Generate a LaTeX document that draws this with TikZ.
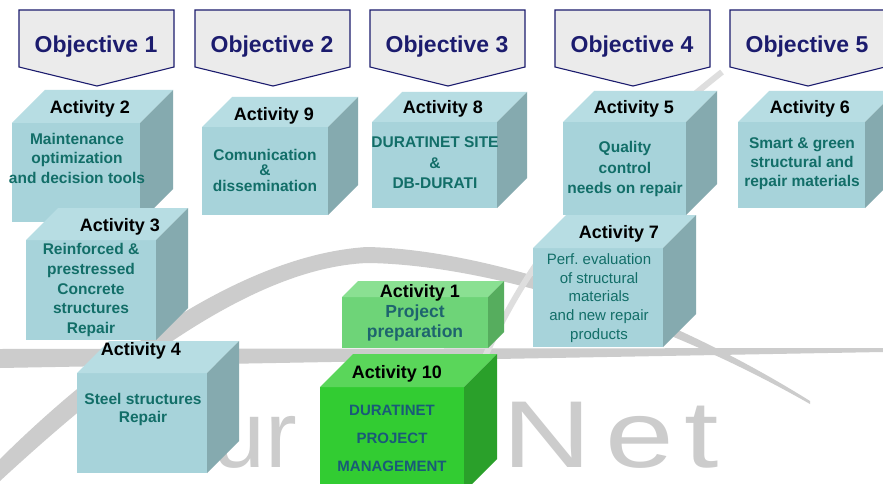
\documentclass[tikz,border=0pt]{standalone}
\usepackage{fontspec}
\setmainfont{Liberation Sans}
\definecolor{objline}{RGB}{28,28,110}
\definecolor{objfill}{RGB}{235,235,235}
\definecolor{acttxt}{RGB}{18,110,104}
\definecolor{gtxt}{RGB}{30,100,110}
\definecolor{mtxt}{RGB}{25,90,120}
\definecolor{cbfront}{RGB}{167,211,218}
\definecolor{cbtop}{RGB}{183,221,227}
\definecolor{cbside}{RGB}{133,170,175}
\definecolor{gafront}{RGB}{110,212,120}
\definecolor{gatop}{RGB}{138,224,146}
\definecolor{gaside}{RGB}{86,173,94}
\definecolor{gbfront}{RGB}{50,204,50}
\definecolor{gbtop}{RGB}{90,214,90}
\definecolor{gbside}{RGB}{42,160,42}
\definecolor{swgray}{RGB}{204,204,204}
\definecolor{swlight}{RGB}{222,222,222}
\tikzset{
  objshape/.style={draw=objline, fill=objfill, line width=1.1pt, line join=miter},
  objtext/.style={text=objline, font=\bfseries\fontsize{23}{26}\selectfont},
  acttitle/.style={font=\bfseries\fontsize{18}{20}\selectfont, text=black, inner sep=0pt},
  acttext/.style={font=\bfseries\fontsize{15.5}{#1}\selectfont, text=acttxt, align=center, inner sep=0pt},
  acttext/.default=19.5,
  actthin/.style={font=\fontsize{15}{18.7}\selectfont, text=acttxt, align=center, inner sep=0pt},
  prepText/.style={font=\bfseries\fontsize{17.5}{20}\selectfont, text=gtxt, align=center, inner sep=0pt},
  mgmtText/.style={font=\bfseries\fontsize{15}{28}\selectfont, text=mtxt, align=center, inner sep=0pt},
  wmark/.style={text=swgray, font=\fontsize{95}{95}\selectfont, inner sep=0pt, anchor=base west}
}
% cube: name, x1, y1, x2, y2, depth, colour set
\newcommand\actcube[7]{%
  \node[anchor=north west, inner sep=0pt, outer sep=0pt, fill=#7front,
        minimum width={(#4-#2)*1pt}, minimum height={(#5-#3)*1pt}] (#1) at (#2,#3) {};
  \fill[#7top] (#1.north west) -- ++(#6,-#6) -- ++({#4-#2},0) -- (#1.north east) -- cycle;
  \fill[#7side] (#1.north east) -- ++(#6,-#6) -- ++(0,{#5-#3}) -- (#1.south east) -- cycle;
}
\begin{document}
\begin{tikzpicture}[x=1pt,y=-1pt]
  \useasboundingbox (0,0) rectangle (883,484);
  \fill[white] (0,0) rectangle (883,484);

  % watermark
  \fill[swgray] (0,459) .. controls (100,360) and (240,255) .. (367,247)
    .. controls (470,249) and (640,295) .. (810,401) -- (810,404)
    .. controls (640,307) and (470,264) .. (367,263)
    .. controls (250,268) and (115,375) .. (0,481) -- cycle;
  \fill[swgray] (0,349) -- (883,348) -- (883,352) -- (0,368) -- cycle;
  \draw[swlight, line width=6pt] (478,372) .. controls (510,300) and (560,200) .. (722,72);
  \node[wmark] (wmu) at (212,467) {ur};
  \node[wmark] (wmn) at (502,467) {\scalebox{1.3}[1]{N\kern11pt e\kern8pt t}};

  % objectives
  \foreach \n/\tx in {1/97,2/273,3/448,4/633,5/808}{
    \draw[objshape] (\tx-78,10) -- (\tx+77,10) -- (\tx+77,67) -- (\tx,86) -- (\tx-78,67) -- cycle;
    \node[objtext] (obj\n) at (\tx-1,47) {Objective \n};
  }

  % activities
  \actcube{a2}{12}{123}{140}{222}{33}{cb}
  \node[acttitle] (a2t) at (90,109) {Activity 2};
  \node[acttext] (a2b) at (77,158) {Maintenance\\optimization\\and decision tools};

  \actcube{a3}{26}{240}{156}{340}{32}{cb}
  \node[acttitle] (a3t) at (120,227) {Activity 3};
  \node[acttext=19.7] (a3b) at (91,290) {Reinforced \&\\prestressed\\Concrete\\structures\\Repair};

  \actcube{a4}{77}{373}{207}{473}{32}{cb}
  \node[acttitle] (a4t) at (141,351) {Activity 4};
  \node[acttext=18] (a4b) at (143,409) {Steel structures\\Repair};

  \actcube{a9}{202}{127}{328}{215}{30}{cb}
  \node[acttitle] (a9t) at (274,116) {Activity 9};
  \node[acttext=15.5] (a9b) at (265,170) {Comunication\\\&\\dissemination};

  \actcube{a8}{372}{122}{497}{208}{30}{cb}
  \node[acttitle] (a8t) at (443,109) {Activity 8};
  \node[acttext=20.5] (a8b) at (435,163) {DURATINET SITE\\\&\\DB-DURATI};

  \actcube{a5}{563}{122}{686}{215}{31}{cb}
  \node[acttitle] (a5t) at (634,109) {Activity 5};
  \node[acttext=20.5] (a5b) at (625,169) {Quality\\control\\needs on repair};

  \actcube{a7}{533}{248}{663}{347}{33}{cb}
  \node[acttitle] (a7t) at (619,234) {Activity 7};
  \node[actthin] (a7b) at (599,298) {Perf.\ evaluation\\of structural\\materials\\and new repair\\products};

  \actcube{a6}{738}{122}{865}{208}{31}{cb}
  \node[acttitle] (a6t) at (810,109) {Activity 6};
  \node[acttext=19] (a6b) at (802,164) {Smart \& green\\structural and\\repair materials};

  \actcube{a1}{342}{297}{488}{348}{16}{ga}
  \node[acttitle] (a1t) at (420,293) {Activity 1};
  \node[prepText] (a1b) at (415,323) {Project\\preparation};

  \actcube{a10}{320}{387}{464}{492}{33}{gb}
  \node[acttitle] (a10t) at (397,374) {Activity 10};
  \node[mgmtText] (a10b) at (392,438) {DURATINET\\PROJECT\\MANAGEMENT};
\end{tikzpicture}
\end{document}
